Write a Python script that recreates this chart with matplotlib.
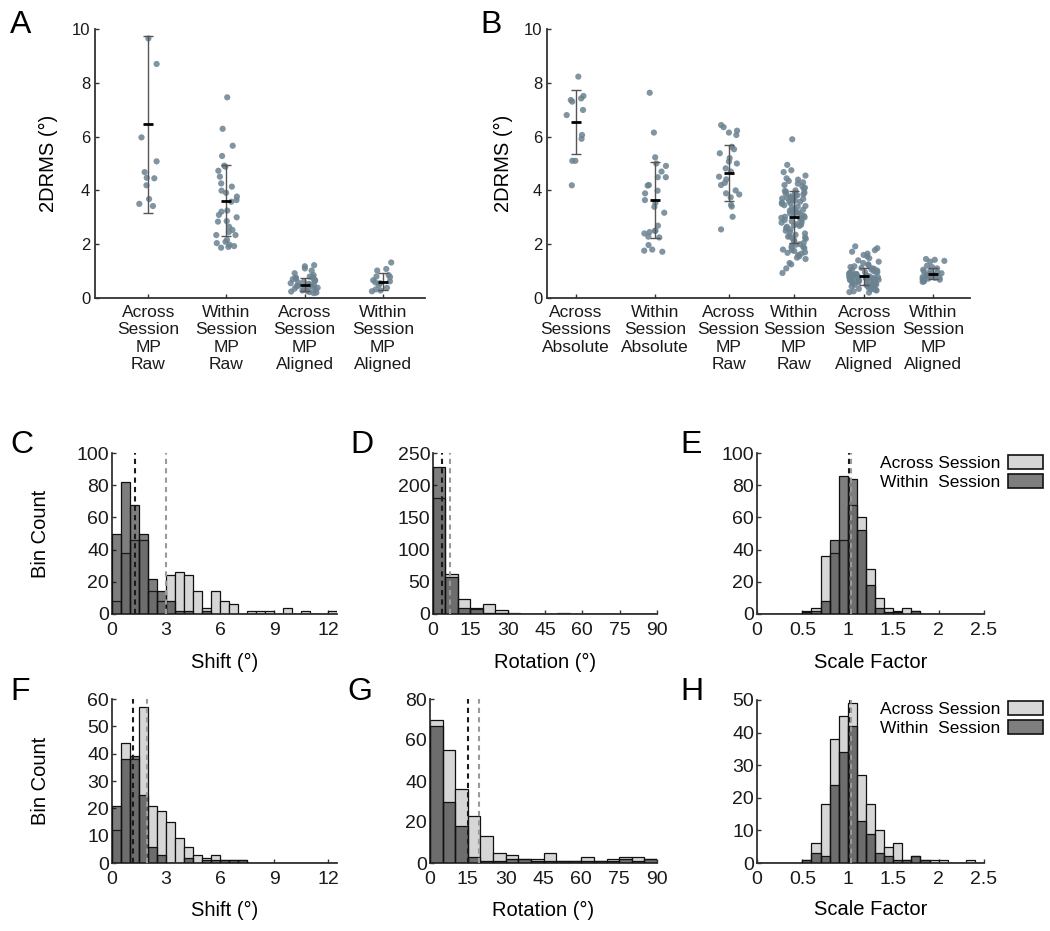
import numpy as np
import matplotlib
matplotlib.use("Agg")
import matplotlib.pyplot as plt
from matplotlib.patches import Patch

plt.rcParams['font.family'] = ['Liberation Sans', 'DejaVu Sans']

# ---------------- data: panel A ----------------
A_labels = ["Across\nSession\nMP\nRaw", "Within\nSession\nMP\nRaw",
            "Across\nSession\nMP\nAligned", "Within\nSession\nMP\nAligned"]
A_across_raw = [9.65, 8.7, 5.97, 5.08, 4.68, 4.47, 4.45, 4.19, 3.68, 3.5, 3.42]
A_within_raw = [7.46, 6.29, 5.66, 5.28, 4.88, 4.73, 4.92, 4.51, 4.26, 4.14, 3.99,
                3.91, 3.77, 3.64, 3.58, 3.25, 3.21, 3.09, 3.0, 2.86, 2.84, 2.65,
                2.53, 2.45, 2.34, 2.34, 2.16, 2.09, 2.04, 1.98, 1.93, 1.9, 1.87]
A_across_aligned = [1.22, 1.18, 1.1, 1.02, 0.92, 0.85, 0.8, 0.78, 0.76, 0.74, 0.72,
                    0.7, 0.68, 0.66, 0.64, 0.6, 0.58, 0.55, 0.53, 0.5, 0.48, 0.46,
                    0.44, 0.42, 0.4, 0.38, 0.35, 0.33, 0.3, 0.28, 0.26, 0.24, 0.22,
                    0.2, 0.18]
A_within_aligned = [1.32, 1.08, 1.02, 0.85, 0.8, 0.78, 0.66, 0.62, 0.58, 0.55,
                    0.48, 0.38, 0.32, 0.28, 0.25]
A_mean = [6.46, 3.62, 0.5, 0.6]
A_low = [3.15, 2.3, 0.25, 0.3]
A_high = [9.75, 4.93, 0.75, 0.93]

# ---------------- data: panel B ----------------
B_labels = ["Across\nSessions\nAbsolute", "Within\nSession\nAbsolute",
            "Across\nSession\nMP\nRaw", "Within\nSession\nMP\nRaw",
            "Across\nSession\nMP\nAligned", "Within\nSession\nMP\nAligned"]
B_across_abs = [8.23, 7.51, 7.42, 7.36, 7.3, 6.99, 6.8, 6.06, 5.92, 5.1, 5.1, 4.19]
B_within_abs = [7.63, 6.15, 5.23, 5.0, 4.91, 4.7, 4.49, 4.49, 4.2, 4.18, 3.99, 3.89,
                3.64, 3.54, 3.39, 3.17, 2.69, 2.5, 2.5, 2.45, 2.4, 2.28, 2.25, 1.97,
                1.8, 1.76, 1.72]
B_across_raw = [6.43, 6.35, 6.22, 6.15, 6.06, 5.62, 5.53, 5.38, 5.2, 5.07, 5.0, 4.82,
                4.7, 4.51, 4.41, 4.28, 4.2, 4.0, 3.89, 3.85, 3.74, 3.46, 3.4, 3.02, 2.55]
B_within_raw = [5.9, 4.95, 4.75, 4.68, 4.55, 4.45, 4.4, 4.35, 4.3, 4.25, 4.2, 4.15,
                4.1, 4.05, 4.0, 3.98, 3.95, 3.92, 3.9, 3.88, 3.85, 3.82, 3.8, 3.78,
                3.75, 3.72, 3.7, 3.68, 3.65, 3.62, 3.6, 3.58, 3.55, 3.52, 3.5, 3.45,
                3.42, 3.4, 3.35, 3.3, 3.28, 3.25, 3.2, 3.18, 3.15, 3.12, 3.1, 3.05,
                3.02, 3.0, 2.98, 2.95, 2.92, 2.9, 2.85, 2.82, 2.8, 2.75, 2.72, 2.7,
                2.68, 2.65, 2.6, 2.55, 2.5, 2.45, 2.4, 2.35, 2.3, 2.28, 2.25, 2.22,
                2.2, 2.15, 2.1, 2.05, 2.0, 1.98, 1.95, 1.9, 1.88, 1.85, 1.8, 1.78,
                1.75, 1.7, 1.68, 1.65, 1.6, 1.55, 1.5, 1.45, 1.3, 1.25, 1.1, 0.93]
B_across_aligned = [1.92, 1.85, 1.78, 1.72, 1.65, 1.6, 1.55, 1.48, 1.4, 1.35, 1.3,
                    1.25, 1.22, 1.18, 1.15, 1.12, 1.1, 1.08, 1.06, 1.04, 1.02, 1.0,
                    0.98, 0.96, 0.95, 0.94, 0.92, 0.9, 0.89, 0.88, 0.86, 0.85, 0.84,
                    0.82, 0.81, 0.8, 0.79, 0.78, 0.77, 0.76, 0.75, 0.74, 0.73, 0.72,
                    0.71, 0.7, 0.69, 0.68, 0.67, 0.66, 0.65, 0.64, 0.62, 0.6, 0.59,
                    0.58, 0.56, 0.55, 0.54, 0.52, 0.5, 0.49, 0.48, 0.46, 0.45, 0.43,
                    0.42, 0.4, 0.38, 0.36, 0.34, 0.32, 0.3, 0.28, 0.25, 0.22, 0.2]
B_within_aligned = [1.45, 1.42, 1.38, 1.35, 1.2, 1.15, 1.1, 1.05, 1.0, 0.98, 0.95,
                    0.92, 0.9, 0.88, 0.86, 0.85, 0.83, 0.82, 0.8, 0.78, 0.76, 0.75,
                    0.72, 0.7, 0.68, 0.66, 0.65, 0.62, 0.6]
B_mean = [6.55, 3.65, 4.65, 3.02, 0.8, 0.9]
B_low = [5.35, 2.22, 3.6, 2.05, 0.5, 0.7]
B_high = [7.75, 5.05, 5.7, 3.98, 1.1, 1.12]

# ---------------- data: histograms ----------------
C_across = [8, 38, 46, 46, 14, 8, 24, 26, 24, 14, 4, 14, 8, 6, 0, 2, 2, 2, 0, 4, 0, 2, 0, 0, 2]
C_within = [50, 82, 68, 50, 22, 14, 8, 2, 2, 0, 2, 0, 0, 0, 0, 0, 0, 0, 0, 0, 0, 0, 0, 0, 0]
D_across = [180, 62, 24, 8, 16, 6, 2, 0, 0, 0, 2, 0, 0, 0, 0, 0, 0, 0]
D_within = [228, 57, 10, 10, 2, 2, 0, 0, 0, 0, 0, 0, 0, 0, 0, 0, 0, 0]
E_across = [0, 0, 0, 0, 0, 2, 4, 36, 38, 46, 68, 60, 28, 10, 4, 2, 4, 2, 0, 0, 0, 0, 0, 0, 0]
E_within = [0, 0, 0, 0, 0, 1, 2, 8, 46, 86, 84, 52, 18, 4, 1, 1, 0, 2, 0, 0, 0, 0, 0, 0, 0]
F_across = [12, 44, 38, 57, 21, 19, 15, 9, 6, 3, 2, 3, 1, 1, 1, 0, 0, 0, 0, 0, 0, 0, 0, 0, 0]
F_within = [21, 38, 39, 25, 6, 3, 0, 0, 2, 0, 1, 1, 1, 1, 1, 0, 0, 0, 0, 0, 0, 0, 0, 0, 0]
G_across = [70, 55, 36, 23, 13, 5, 4, 2, 2, 5, 1, 1, 3, 1, 2, 3, 3, 2]
G_within = [67, 30, 18, 3, 1, 1, 2, 2, 1, 1, 1, 1, 1, 1, 1, 2, 1, 2]
H_across = [0, 0, 0, 0, 0, 1, 6, 18, 38, 45, 49, 27, 18, 10, 5, 6, 1, 2, 1, 1, 1, 0, 0, 1, 0]
H_within = [0, 0, 0, 0, 0, 1, 3, 2, 24, 34, 42, 13, 9, 3, 2, 1, 1, 2, 1, 0, 0, 0, 0, 0, 0]

# medians (within, across)
C_med = [1.3, 3.0]
D_med = [3.6, 6.7]
E_med = [1.01, 1.03]
F_med = [1.17, 1.94]
G_med = [15.2, 19.4]
H_med = [1.02, 1.04]

# ---------------- figure ----------------
W, H = 1050, 931
fig = plt.figure(figsize=(W / 100, H / 100), dpi=100)


def ax_px(l, t, r, b):
    return fig.add_axes([l / W, 1 - b / H, (r - l) / W, (b - t) / H])


AXC = '#333333'
PT = '#6b8291'
LIGHT = '#d6d6d6'
DARK = (0.13, 0.13, 0.13, 0.58)


def style(ax, fs):
    for s in ['top', 'right']:
        ax.spines[s].set_visible(False)
    for s in ['left', 'bottom']:
        ax.spines[s].set_color(AXC)
        ax.spines[s].set_linewidth(1.3)
    ax.tick_params(direction='in', length=3, width=1, colors=AXC,
                   labelcolor='#1a1a1a', labelsize=fs)


def strip(ax, groups, pos, widths, means, lows, highs, labels, seed):
    rng = np.random.default_rng(seed)
    for g, p, w in zip(groups, pos, widths):
        xs = p + rng.uniform(-w, w, len(g))
        ax.scatter(xs, g, s=20, color=PT, alpha=0.85, edgecolors='none', zorder=2)
    m = np.array(means)
    ax.errorbar(pos, m, yerr=[m - np.array(lows), np.array(highs) - m], fmt='none',
                ecolor='#555555', elinewidth=1.0, capsize=3.5, capthick=1.0, zorder=3)
    ax.plot(pos, m, ls='none', marker='_', ms=7, mew=2.0, color='k', zorder=4)
    ax.set_ylim(0, 10)
    ax.set_yticks([0, 2, 4, 6, 8, 10])
    ax.set_xticks(pos)
    ax.set_xticklabels(labels, fontsize=12.5, linespacing=1.2)
    ax.tick_params(axis='x', pad=5)


# Panel A
axA = ax_px(95, 29, 425, 298)
style(axA, 12)
A_pos = [1, 2, 3, 4]
strip(axA, [A_across_raw, A_within_raw, A_across_aligned, A_within_aligned],
      A_pos, [0.12, 0.14, 0.18, 0.14], A_mean, A_low, A_high, A_labels, 1)
axA.set_xlim(0.32, 4.54)
axA.set_ylabel('2DRMS (°)', fontsize=14.5)
axA.yaxis.set_label_coords(-0.112, 0.5)

# Panel B
axB = ax_px(547, 29, 970, 298)
style(axB, 12)
B_pos = [0.37, 1.38, 2.32, 3.15, 4.05, 4.93]
strip(axB, [B_across_abs, B_within_abs, B_across_raw, B_within_raw,
            B_across_aligned, B_within_aligned],
      B_pos, [0.12, 0.14, 0.14, 0.16, 0.2, 0.16], B_mean, B_low, B_high, B_labels, 7)
axB.set_xlim(0, 5.4)
axB.set_ylabel('2DRMS (°)', fontsize=14.5)
axB.yaxis.set_label_coords(-0.08, 0.5)


def hist(ax, across, within, bw, ymax, yt, xt, xtl, med, xlabel, ylabel):
    style(ax, 14)
    edges = np.arange(len(across)) * bw
    ax.bar(edges, across, width=bw, align='edge', color=LIGHT, edgecolor='#111111',
           linewidth=0.9, zorder=2)
    ax.bar(edges, within, width=bw, align='edge', color=DARK, edgecolor='#111111',
           linewidth=0.9, zorder=3)
    ax.plot([med[0], med[0]], [0, ymax], ls=(0, (2.5, 2)), color='#1a1a1a', lw=1.5, zorder=5)
    ax.plot([med[1], med[1]], [0, ymax], ls=(0, (2.5, 2)), color='#9a9a9a', lw=1.5, zorder=5)
    ax.set_xlim(0, len(across) * bw)
    ax.set_ylim(0, ymax)
    ax.set_yticks(yt)
    ax.set_xticks(xt)
    ax.set_xticklabels(xtl)
    ax.tick_params(axis='x', pad=6)
    ax.tick_params(axis='y', pad=2)
    ax.set_xlabel(xlabel, fontsize=14.5)
    if ylabel:
        ax.set_ylabel(ylabel, fontsize=14.5)
        ax.yaxis.set_label_coords(-0.276, 0.5)


shift_t = [0, 3, 6, 9, 12]
rot_t = [0, 15, 30, 45, 60, 75, 90]
sc_t = [0, 0.5, 1, 1.5, 2, 2.5]
sc_tl = ['0', '0.5', '1', '1.5', '2', '2.5']

axC = ax_px(112, 453, 337, 614)
hist(axC, C_across, C_within, 0.5, 100, range(0, 101, 20), shift_t, [str(v) for v in shift_t],
     C_med, 'Shift (°)', 'Bin Count')
axD = ax_px(433, 453, 657, 614)
hist(axD, D_across, D_within, 5, 250, range(0, 251, 50), rot_t, [str(v) for v in rot_t],
     D_med, 'Rotation (°)', None)
axE = ax_px(757, 453, 984, 614)
hist(axE, E_across, E_within, 0.1, 100, range(0, 101, 20), sc_t, sc_tl,
     E_med, 'Scale Factor', None)
axF = ax_px(112, 699, 337, 863)
hist(axF, F_across, F_within, 0.5, 60, range(0, 61, 10), shift_t, [str(v) for v in shift_t],
     F_med, 'Shift (°)', 'Bin Count')
axG = ax_px(430, 699, 657, 863)
hist(axG, G_across, G_within, 5, 80, range(0, 81, 20), rot_t, [str(v) for v in rot_t],
     G_med, 'Rotation (°)', None)
axH = ax_px(757, 700, 984, 863)
hist(axH, H_across, H_within, 0.1, 50, range(0, 51, 10), sc_t, sc_tl,
     H_med, 'Scale Factor', None)

for ax in [axC, axD, axE]:
    ax.xaxis.set_label_coords(0.5, -0.24)
for ax in [axF, axG, axH]:
    ax.xaxis.set_label_coords(0.5, -0.23)

handles = [Patch(facecolor=LIGHT, edgecolor='#111111', linewidth=1.2, label='Across Session'),
           Patch(facecolor=DARK, edgecolor='#111111', linewidth=1.2, label='Within  Session')]
for ax, top in [(axE, 455), (axH, 701)]:
    ax.legend(handles=handles, loc='upper right', bbox_to_anchor=(1043 / W, 1 - top / H),
              bbox_transform=fig.transFigure, frameon=False, markerfirst=False,
              fontsize=12.5, handlelength=2.0, handleheight=0.85, handletextpad=0.45,
              labelspacing=0.2, borderpad=0, borderaxespad=0)

# panel letters
for lab, x, y in [('A', 10, 33), ('B', 480, 33), ('C', 10, 453), ('D', 350, 453),
                  ('E', 680, 453), ('F', 10, 700), ('G', 347, 700), ('H', 680, 700)]:
    fig.text(x / W, 1 - y / H, lab, fontsize=23, ha='left', va='baseline')

fig.savefig('out.png', dpi=100)
